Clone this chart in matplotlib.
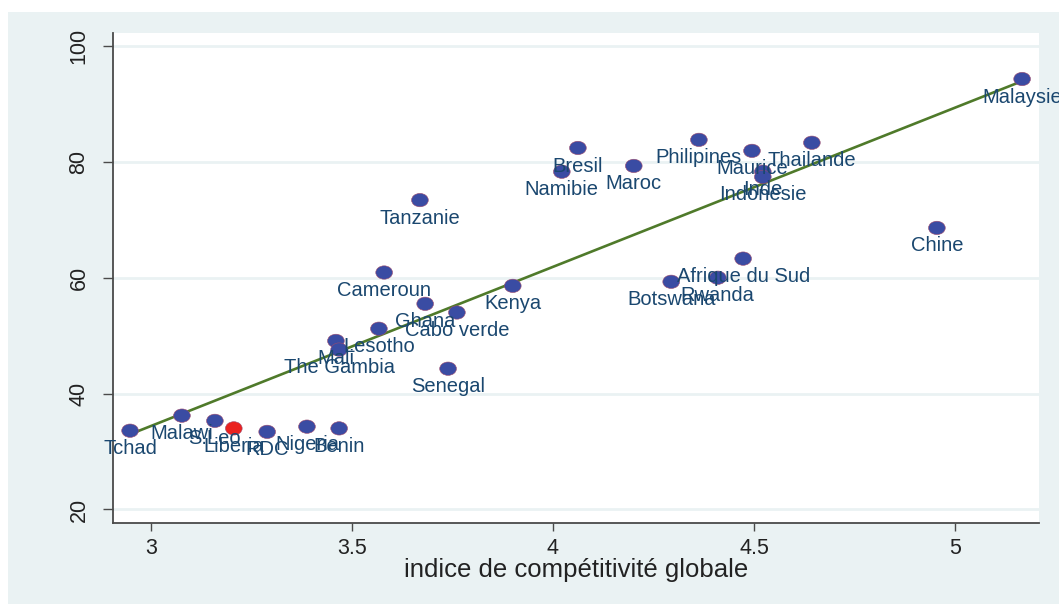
import numpy as np
import matplotlib
matplotlib.use('Agg')
import matplotlib.pyplot as plt
from matplotlib.path import Path
from matplotlib.patches import Rectangle

plt.rcParams['font.family'] = ['Liberation Sans', 'DejaVu Sans']

# pays, indice de competitivite globale et valeur en ordonnee
pays = ['Tchad', 'Malawi', 'S.Leo', 'Liberia', 'RDC', 'Nigeria', 'Benin',
        'Cameroun', 'Ghana', 'Cabo verde', 'Kenya', 'Senegal', 'Lesotho',
        'Mali', 'The Gambia', 'Tanzanie', 'Bresil', 'Namibie', 'Maroc',
        'Philipines', 'Maurice', 'Inde', 'Indonesie', 'Thailande',
        'Afrique du Sud', 'Rwanda', 'Botswana', 'Malaysie', 'Chine']
icg = [2.948, 3.077, 3.159, 3.206, 3.289, 3.388, 3.468,
       3.580, 3.682, 3.761, 3.900, 3.739, 3.567,
       3.460, 3.468, 3.669, 4.062, 4.022, 4.201,
       4.363, 4.495, 4.522, 4.522, 4.644,
       4.473, 4.410, 4.294, 5.167, 4.955]
val = [33.6, 36.2, 35.3, 34.0, 33.4, 34.3, 34.0,
       60.9, 55.5, 54.0, 58.6, 44.3, 51.2,
       49.1, 47.6, 73.4, 82.4, 78.3, 79.3,
       83.8, 81.9, 78.3, 77.4, 83.3,
       63.3, 60.0, 59.3, 94.3, 68.6]
surligne = 'Liberia'

x = np.array(icg)
y = np.array(val)

bleu = '#3a4ca3'
rouge = '#ea2220'
navy = '#1a476f'
fond = '#eaf2f3'

fig = plt.figure(figsize=(10.59, 6.04), dpi=100)
fig.patch.set_facecolor('white')
# cadre gris clair autour du graphe
fig.add_artist(Rectangle((8 / 1059, 0), 1 - 8 / 1059, 1 - 12 / 604,
                         transform=fig.transFigure, facecolor=fond,
                         edgecolor='none', zorder=-1))
ax = fig.add_axes([113 / 1059, 1 - 523 / 604, (1039 - 113) / 1059, (523 - 33) / 604])
ax.set_facecolor('white')

# marqueur legerement ovale
cercle = Path.unit_circle()
ovale = Path(cercle.vertices * np.array([1.0, 0.8]), cercle.codes)

couleurs = [rouge if p == surligne else bleu for p in pays]
ax.scatter(x, y, s=145, marker=ovale, c=couleurs, edgecolors='#9c4a6e',
           linewidths=0.4, zorder=3)

for p, xi, yi in zip(pays, x, y):
    ax.annotate(p, (xi, yi), xytext=(0, -13), textcoords='offset points',
                ha='center', va='center', fontsize=14.5, color=navy,
                zorder=4, annotation_clip=False)

# droite de regression
b, a = np.polyfit(x, y, 1)
xs = np.array([x.min(), x.max()])
ax.plot(xs, a + b * xs, color='#4f7a2a', lw=1.9, zorder=2)

ax.set_xlim(2.9055, 5.209)
ax.set_ylim(17.67, 102.24)
ax.set_xticks([3, 3.5, 4, 4.5, 5])
ax.set_xticklabels(['3', '3.5', '4', '4.5', '5'])
ax.set_yticks([20, 40, 60, 80, 100])
ax.set_yticklabels(['20', '40', '60', '80', '100'], rotation=90, va='center')
ax.yaxis.grid(True, color=fond, lw=2)
ax.set_axisbelow(True)
for s in ['top', 'right']:
    ax.spines[s].set_visible(False)
for s in ['left', 'bottom']:
    ax.spines[s].set_color('#4a4a4a')
    ax.spines[s].set_linewidth(1.3)
ax.tick_params(axis='both', width=1, color='#4a4a4a',
               labelsize=15.5, labelcolor='#222222')
ax.tick_params(axis='x', length=6, pad=5)
ax.tick_params(axis='y', length=7, pad=10)
ax.set_xlabel('indice de compétitivité globale', fontsize=18.5, color='#222222', labelpad=-1)

fig.savefig('out.png', dpi=100)
